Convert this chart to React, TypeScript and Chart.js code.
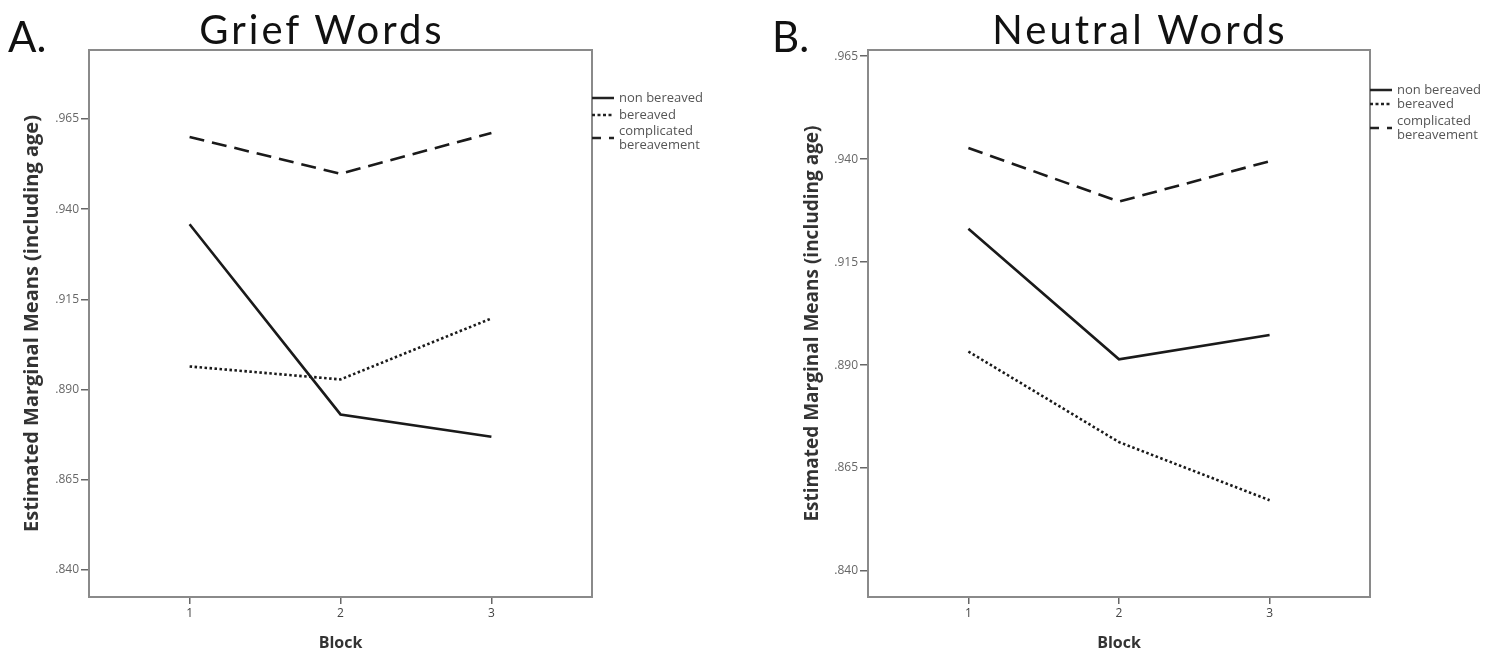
import React, { useEffect, useRef } from "react";
import { Chart, registerables } from "chart.js";

Chart.register(...registerables);

const blocks = [1, 2, 3];
const yTickValues = [0.84, 0.865, 0.89, 0.915, 0.94, 0.965];
const seriesLabels = ["non bereaved", "bereaved", "complicated bereavement"];

const griefNonBereaved = [0.9358, 0.8831, 0.8769];
const griefBereaved = [0.8964, 0.8928, 0.9097];
const griefComplicated = [0.9600, 0.9498, 0.9611];

const neutralNonBereaved = [0.9231, 0.8914, 0.8973];
const neutralBereaved = [0.8933, 0.8713, 0.8572];
const neutralComplicated = [0.9427, 0.9297, 0.9395];

const dashes: number[][] = [[], [2.5, 2.5], [15, 8]];
const legendDashes: number[][] = [[], [3, 2.5], [9, 8]];

type PanelCfg = {
  id: string;
  left: number;
  width: number;
  padRight: number;
  yWidth: number;
  titlePad: number;
  titleSize: number;
  yMin: number;
  yMax: number;
  series: number[][];
  legendRows: number[];
};

const frameAndLegend = {
  id: "frameAndLegend",
  afterDraw(chart: any) {
    const { ctx, chartArea } = chart;
    const cfg = chart.options.plugins.frameAndLegend;
    ctx.save();
    ctx.strokeStyle = "#8a8a8a";
    ctx.lineWidth = 2;
    ctx.strokeRect(chartArea.left, chartArea.top, chartArea.right - chartArea.left, chartArea.bottom - chartArea.top);
    ctx.font = "13px 'Open Sans'";
    ctx.fillStyle = "#555";
    ctx.textBaseline = "middle";
    const x0 = chartArea.right;
    const rows = cfg.rows;
    seriesLabels.forEach((lab: string, i: number) => {
      const y = chartArea.top + rows[i];
      ctx.beginPath();
      ctx.setLineDash(legendDashes[i]);
      ctx.strokeStyle = "#222";
      ctx.lineWidth = 2.5;
      ctx.moveTo(x0, y);
      ctx.lineTo(x0 + 22, y);
      ctx.stroke();
      ctx.setLineDash([]);
      if (i === 2) {
        ctx.fillText("complicated", x0 + 27, y - 7);
        ctx.fillText("bereavement", x0 + 27, y + 7);
      } else {
        ctx.fillText(lab, x0 + 27, y);
      }
    });
    ctx.restore();
  },
};

function Panel({ cfg }: { cfg: PanelCfg }) {
  const ref = useRef<HTMLCanvasElement | null>(null);
  useEffect(() => {
    if (!ref.current) return;
    const chart = new Chart(ref.current, {
      type: "line",
      data: {
        datasets: cfg.series.map((vals, i) => ({
          label: seriesLabels[i],
          data: blocks.map((b, j) => ({ x: b, y: vals[j] })),
          borderColor: "#1a1a1a",
          borderWidth: 2.6,
          borderDash: dashes[i],
          pointRadius: 0,
          fill: false,
          tension: 0,
        })),
      },
      plugins: [frameAndLegend],
      options: {
        animation: false,
        responsive: false,
        maintainAspectRatio: false,
        layout: { padding: { left: 0, top: 50, right: cfg.padRight, bottom: 0 } },
        plugins: {
          legend: { display: false },
          tooltip: { enabled: false },
          frameAndLegend: { rows: cfg.legendRows },
        } as any,
        scales: {
          x: {
            type: "linear",
            min: 1 / 3,
            max: 11 / 3,
            afterBuildTicks: (s: any) => {
              s.ticks = blocks.map((v) => ({ value: v }));
            },
            afterFit: (s: any) => {
              s.height = 56;
            },
            grid: { drawOnChartArea: false, drawTicks: true, tickLength: 7, color: "#666", lineWidth: 1.5 },
            border: { display: false },
            ticks: {
              padding: 2,
              color: "#444",
              font: { family: "'Open Sans'", size: 12 },
              callback: (v: any) => String(v),
            },
            title: {
              display: true,
              text: "Block",
              color: "#333",
              font: { family: "'Open Sans'", size: 16, weight: "bold" },
              padding: { top: 0, bottom: 0 },
            },
          },
          y: {
            type: "linear",
            min: cfg.yMin,
            max: cfg.yMax,
            afterBuildTicks: (s: any) => {
              s.ticks = yTickValues.map((v) => ({ value: v }));
            },
            afterFit: (s: any) => {
              s.width = cfg.yWidth;
            },
            grid: { drawOnChartArea: false, drawTicks: true, tickLength: 8, color: "#666", lineWidth: 1.5 },
            border: { display: false },
            ticks: {
              padding: 2,
              color: "#666",
              font: { family: "'Open Sans'", size: 12 },
              callback: (v: any) => Number(v).toFixed(3).replace(/^0/, ""),
            },
            title: {
              display: true,
              text: "Estimated Marginal Means (including age)",
              color: "#333",
              font: { family: "'Open Sans'", size: cfg.titleSize, weight: "bold" },
              padding: { top: cfg.titlePad, bottom: 0 },
            },
          },
        },
      },
    });
    return () => chart.destroy();
  }, [cfg]);
  return (
    <canvas
      ref={ref}
      width={cfg.width}
      height={653}
      style={{ position: "absolute", left: cfg.left, top: 0, width: cfg.width, height: 653 }}
    />
  );
}

const panelA: PanelCfg = {
  id: "A",
  left: 0,
  width: 755,
  padRight: 755 - 592,
  yWidth: 89,
  titlePad: 20,
  titleSize: 20,
  yMin: 0.8325,
  yMax: 0.9841,
  series: [griefNonBereaved, griefBereaved, griefComplicated],
  legendRows: [48, 65, 88],
};

const panelB: PanelCfg = {
  id: "B",
  left: 755,
  width: 756,
  padRight: 756 - 615,
  yWidth: 113,
  titlePad: 46,
  titleSize: 19,
  yMin: 0.8337,
  yMax: 0.9665,
  series: [neutralNonBereaved, neutralBereaved, neutralComplicated],
  legendRows: [40, 54, 78],
};

const headStyle: React.CSSProperties = {
  position: "absolute",
  fontFamily: "Lato, 'Open Sans', sans-serif",
  color: "#111",
  lineHeight: 1,
  whiteSpace: "nowrap",
};

export default function App() {
  return (
    <div style={{ position: "fixed", left: 0, top: 0, width: 1511, height: 653, background: "#fff", overflow: "hidden" }}>
      <Panel cfg={panelA} />
      <Panel cfg={panelB} />
      <div style={{ ...headStyle, left: 8, top: 15, fontSize: 42 }}>A.</div>
      <div style={{ ...headStyle, left: 322, top: 9, fontSize: 40, letterSpacing: 3, transform: "translateX(-50%)" }}>Grief Words</div>
      <div style={{ ...headStyle, left: 772, top: 15, fontSize: 42 }}>B.</div>
      <div style={{ ...headStyle, left: 1140, top: 9, fontSize: 40, letterSpacing: 3, transform: "translateX(-50%)" }}>Neutral Words</div>
    </div>
  );
}
